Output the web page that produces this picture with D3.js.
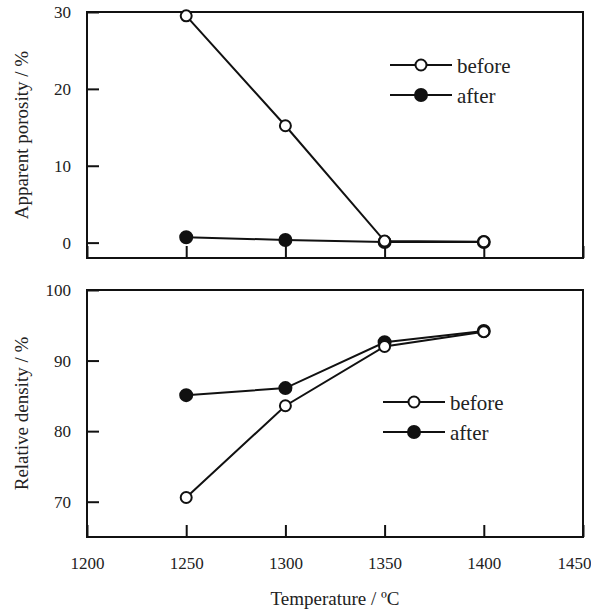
<!DOCTYPE html>
<html><head><meta charset="utf-8">
<script src="https://cdn.jsdelivr.net/npm/d3@7"></script>
<style>body{margin:0;background:#fff}svg{display:block}text{font-family:"Liberation Serif","Times New Roman",serif;fill:#222}</style>
</head><body><svg id="c" width="591" height="611"></svg>
<script>
const temps = [1250, 1300, 1350, 1400];
const porosityBefore = [29.5, 15.2, 0.2, 0.1];
const porosityAfter = [0.7, 0.35, 0.08, 0.08];
const densityBefore = [70.6, 83.6, 92.0, 94.1];
const densityAfter = [85.1, 86.1, 92.6, 94.2];
const xTicks = [1200, 1250, 1300, 1350, 1400, 1450];
const porosityTicks = [0, 10, 20, 30];
const densityTicks = [70, 80, 90, 100];
const seriesNames = ["before", "after"];

const svg = d3.select("#c");
const left = 87, right = 583;
const x = d3.scaleLinear().domain([1200, 1450]).range([left, right]);

function panel(top, bottom, domain, yTicks, before, after, title, legendX, legendY, showXLabels) {
  const y = d3.scaleLinear().domain(domain).range([bottom, top]);
  const g = svg.append("g");
  g.append("rect").attr("x", left).attr("y", top).attr("width", right - left).attr("height", bottom - top)
    .attr("fill", "none").attr("stroke", "#111").attr("stroke-width", 2);
  const ya = g.append("g").attr("transform", `translate(${left},0)`)
    .call(d3.axisLeft(y).tickValues(yTicks).tickSize(-12).tickPadding(16).tickFormat(d3.format("d")));
  ya.select(".domain").remove();
  ya.selectAll("line").attr("stroke", "#111").attr("stroke-width", 2);
  ya.selectAll("text").attr("font-size", 17).attr("fill", "#222");
  const xa = g.append("g").attr("transform", `translate(0,${bottom})`)
    .call(d3.axisBottom(x).tickValues(xTicks).tickSize(-12).tickPadding(20).tickFormat(d3.format("d")));
  xa.select(".domain").remove();
  xa.selectAll("line").attr("stroke", "#111").attr("stroke-width", 2);
  xa.selectAll("text").attr("font-size", 17).attr("fill", "#222")
    .attr("display", showXLabels ? null : "none")
    .filter(d => d === 1450).attr("text-anchor", "end").attr("dx", 8);
  g.append("text").attr("transform", `translate(28,${(top + bottom) / 2}) rotate(-90)`)
    .attr("text-anchor", "middle").attr("font-size", 19).text(title);
  const line = d3.line().x((d, i) => x(temps[i])).y(d => y(d));
  [after, before].forEach(vals => {
    g.append("path").attr("d", line(vals)).attr("fill", "none").attr("stroke", "#111").attr("stroke-width", 2);
  });
  [[after, "#111", 6], [before, "#fff", 5.5]].forEach(([vals, fill, r]) => {
    g.selectAll(null).data(vals).join("circle")
      .attr("cx", (d, i) => x(temps[i])).attr("cy", d => y(d)).attr("r", r)
      .attr("fill", fill).attr("stroke", "#111").attr("stroke-width", 2);
  });
  seriesNames.forEach((name, i) => {
    const ly = legendY + i * 30;
    g.append("line").attr("x1", legendX).attr("x2", legendX + 62).attr("y1", ly).attr("y2", ly)
      .attr("stroke", "#111").attr("stroke-width", 2);
    g.append("circle").attr("cx", legendX + 31).attr("cy", ly).attr("r", i === 0 ? 5.5 : 6)
      .attr("fill", i === 0 ? "#fff" : "#111").attr("stroke", "#111").attr("stroke-width", 2);
    g.append("text").attr("x", legendX + 67).attr("y", ly + 8).attr("font-size", 21).text(name);
  });
}

panel(12, 258, [-2, 30], porosityTicks, porosityBefore, porosityAfter, "Apparent porosity / %", 390, 65, false);
panel(290, 537, [65, 100], densityTicks, densityBefore, densityAfter, "Relative density / %", 383, 402, true);

svg.append("text").attr("x", 335).attr("y", 605).attr("text-anchor", "middle").attr("font-size", 19)
  .text("Temperature / ºC");
</script></body></html>
